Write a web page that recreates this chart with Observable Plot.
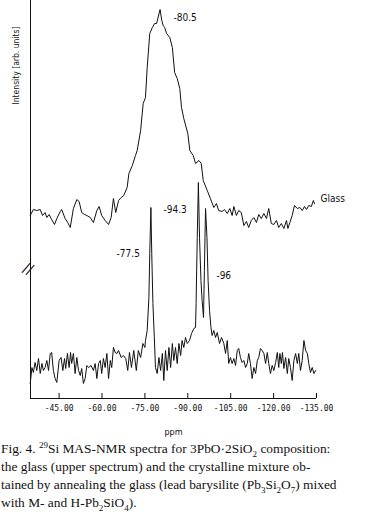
<!DOCTYPE html>
<html>
<head>
<meta charset="utf-8">
<script src="https://cdn.jsdelivr.net/npm/d3@7"></script>
<script src="https://cdn.jsdelivr.net/npm/@observablehq/plot@0.6"></script>
<style>
  html, body { margin: 0; padding: 0; background: #fff; }
  #chart svg { display: block; }
  .cap { font-family: "Liberation Serif", "Times New Roman", serif; font-size: 13.4px; line-height: 18px; white-space: nowrap; padding-left: 1px; color: #111; }
  .cap sub, .cap sup { font-size: 9px; line-height: 0; }
</style>
</head>
<body>
<div id="chart"></div>
<div class="cap">
  <div>Fig. 4. <sup>29</sup>Si MAS-NMR spectra for 3PbO·2SiO<sub>2</sub> composition:</div>
  <div>the glass (upper spectrum) and the crystalline mixture ob-</div>
  <div>tained by annealing the glass (lead barysilite (Pb<sub>3</sub>Si<sub>2</sub>O<sub>7</sub>) mixed</div>
  <div>with M- and H-Pb<sub>2</sub>SiO<sub>4</sub>).</div>
</div>
<script>
// Glass (upper spectrum)
const glassPpm = [-34.9,-36.0,-37.2,-38.4,-39.2,-40.1,-40.7,-41.5,-42.2,-43.4,-44.2,-45.4,-45.9,-47.1,-48.0,-48.9,-50.0,-51.2,-52.0,-52.9,-53.9,-54.7,-55.9,-57.0,-58.2,-59.0,-59.9,-61.1,-62.3,-63.2,-64.0,-64.8,-65.8,-66.7,-67.6,-68.8,-69.4,-70.6,-71.7,-72.3,-73.5,-74.4,-75.2,-75.8,-76.7,-77.6,-78.4,-79.1,-80.3,-80.9,-81.4,-81.9,-82.6,-83.7,-84.6,-85.4,-86.3,-87.2,-87.8,-88.6,-90.0,-90.7,-91.9,-92.7,-93.9,-94.7,-95.4,-96.8,-97.9,-99.1,-100.0,-100.8,-102.0,-102.8,-103.8,-104.7,-105.5,-106.1,-107.0,-107.8,-108.7,-109.6,-110.5,-111.3,-112.2,-113.1,-114.0,-114.8,-115.7,-116.6,-117.5,-118.3,-119.2,-120.1,-121.0,-121.8,-122.7,-123.6,-124.5,-125.0,-125.7,-126.5,-127.3,-128.3,-129.2,-130.0,-130.8,-131.5,-132.3,-133.2,-133.9,-134.3];
const glassI = [183,189,188,189,183,186,181,184,180,174,180,187,189,180,176,171,190,199,197,186,184,183,181,176,188,192,183,178,174,181,200,186,198,201,203,211,225,233,243,248,268,295,301,331,365,371,375,375,389,378,373,371,365,361,351,326,320,310,291,280,265,248,243,235,238,235,218,208,200,191,195,188,187,189,185,190,183,192,183,188,186,173,177,171,178,181,176,184,180,185,180,190,175,174,178,171,175,170,178,170,176,183,193,190,191,188,192,189,193,192,198,195];

// Crystalline mixture (lower spectrum)
const crystPpm = [-34.9,-35.5,-36.0,-36.6,-37.2,-37.8,-38.4,-39.0,-39.5,-40.1,-40.7,-41.3,-41.9,-42.4,-43.0,-43.6,-44.2,-45.0,-45.7,-46.3,-46.9,-47.3,-47.9,-48.5,-49.0,-49.4,-50.0,-50.6,-51.2,-51.8,-52.4,-52.9,-53.5,-54.1,-54.7,-55.3,-56.2,-57.0,-57.6,-58.2,-58.8,-59.4,-59.9,-60.5,-61.1,-61.7,-62.3,-62.9,-63.4,-64.0,-64.6,-65.2,-65.8,-66.7,-67.5,-68.3,-69.0,-69.6,-70.3,-71.1,-72.0,-72.7,-73.5,-74.3,-75.0,-75.2,-75.8,-76.4,-76.7,-77.1,-77.4,-77.8,-78.3,-78.7,-79.3,-79.9,-80.5,-81.1,-81.6,-82.2,-82.8,-83.4,-84.0,-84.6,-85.1,-85.7,-86.3,-86.9,-87.5,-88.0,-88.6,-89.2,-89.8,-90.6,-91.3,-92.1,-92.7,-92.9,-93.3,-93.7,-94.1,-94.6,-95.0,-95.5,-95.8,-96.2,-96.7,-97.1,-97.6,-98.1,-98.5,-99.1,-99.7,-100.3,-101.1,-101.8,-102.6,-103.2,-103.8,-104.3,-104.9,-105.5,-106.1,-106.7,-107.3,-107.8,-108.4,-109.0,-109.6,-110.2,-110.8,-111.3,-111.9,-112.5,-113.1,-113.7,-114.3,-114.8,-115.4,-116.0,-116.6,-117.2,-117.8,-118.3,-118.9,-119.5,-120.1,-120.7,-121.3,-121.8,-122.2,-122.7,-123.1,-123.6,-124.2,-124.8,-125.3,-125.9,-126.5,-127.1,-127.7,-128.3,-128.8,-129.4,-130.0,-130.6,-131.2,-131.8,-132.3,-132.9,-133.5,-134.1,-134.7];
const crystI = [15,31,26,36,28,40,25,35,28,31,38,28,45,46,28,20,16,38,41,28,40,30,45,31,46,35,45,25,41,28,23,30,15,20,33,31,33,28,35,20,35,38,25,40,31,45,20,38,31,51,46,45,48,41,43,40,28,46,31,48,28,48,41,55,51,58,68,101,145,191,145,95,61,31,25,41,28,45,18,48,28,51,31,55,38,51,35,55,43,58,51,61,55,58,65,70,71,95,161,216,161,118,98,81,128,190,161,118,88,71,63,68,61,66,55,61,55,45,58,35,41,35,40,33,48,50,41,36,38,31,35,45,35,20,31,25,38,41,50,48,45,35,46,35,25,33,28,36,46,31,45,35,46,30,41,25,40,31,18,38,45,35,45,28,38,58,48,45,35,26,31,25,28];

// Axis ticks and titles
const tickVals = [-45, -60, -75, -90, -105, -120, -135];
const xTitle = "ppm";
const yTitle = "Intensity [arb. units]";

// Peak / series annotations
const labelText = ["-80.5", "Glass", "-94.3", "-77.5", "-96"];
const labelPpm = [-85.0, -136.4, -81.5, -65.1, -100.0];
const labelI = [381, 200, 189, 145, 123];

const glass = glassPpm.map((p, i) => ({ppm: p, I: glassI[i]}));
const cryst = crystPpm.map((p, i) => ({ppm: p, I: crystI[i]}));
const labels = labelText.map((t, i) => ({text: t, ppm: labelPpm[i], I: labelI[i]}));

const chart = Plot.plot({
  width: 369,
  height: 440,
  marginLeft: 30,
  marginRight: 53,
  marginTop: 0,
  marginBottom: 42,
  style: {fontFamily: "DejaVu Sans Condensed, DejaVu Sans, sans-serif", fontSize: "10px", background: "white", color: "#111"},
  x: {domain: [-35, -135], axis: null},
  y: {domain: [0, 398], axis: null},
  marks: [
    Plot.ruleY([0], {stroke: "#111", strokeWidth: 1}),
    Plot.ruleX([-35], {stroke: "#111", strokeWidth: 1}),
    Plot.axisX({ticks: tickVals, tickSize: -5, tickFormat: () => "", label: null, stroke: "#111"}),
    Plot.axisX({ticks: tickVals, tickSize: 0, tickPadding: 7, tickFormat: d => d.toFixed(2),
      fontFamily: "DejaVu Sans Mono, monospace", fontSize: 8, label: null}),
    Plot.line(glass, {x: "ppm", y: "I", stroke: "#111", strokeWidth: 1}),
    Plot.line(cryst, {x: "ppm", y: "I", stroke: "#111", strokeWidth: 1}),
    Plot.text(labels, {x: "ppm", y: "I", text: "text", textAnchor: "start", lineAnchor: "middle", fontSize: 10, fill: "#111"}),
    Plot.text([xTitle], {x: () => -85, y: () => -34, lineAnchor: "middle", fontSize: 9, fill: "#111"}),
    Plot.text([yTitle], {frameAnchor: "top-left", dx: -18, dy: 65, rotate: -90, fontSize: 8.5, fill: "#111", textAnchor: "middle"}),
    Plot.text(["//"], {frameAnchor: "top-left", dx: 0, dy: 263, rotate: 25, fontSize: 15, fill: "#111", textAnchor: "middle"})
  ]
});
document.getElementById("chart").appendChild(chart);
</script>
</body>
</html>
